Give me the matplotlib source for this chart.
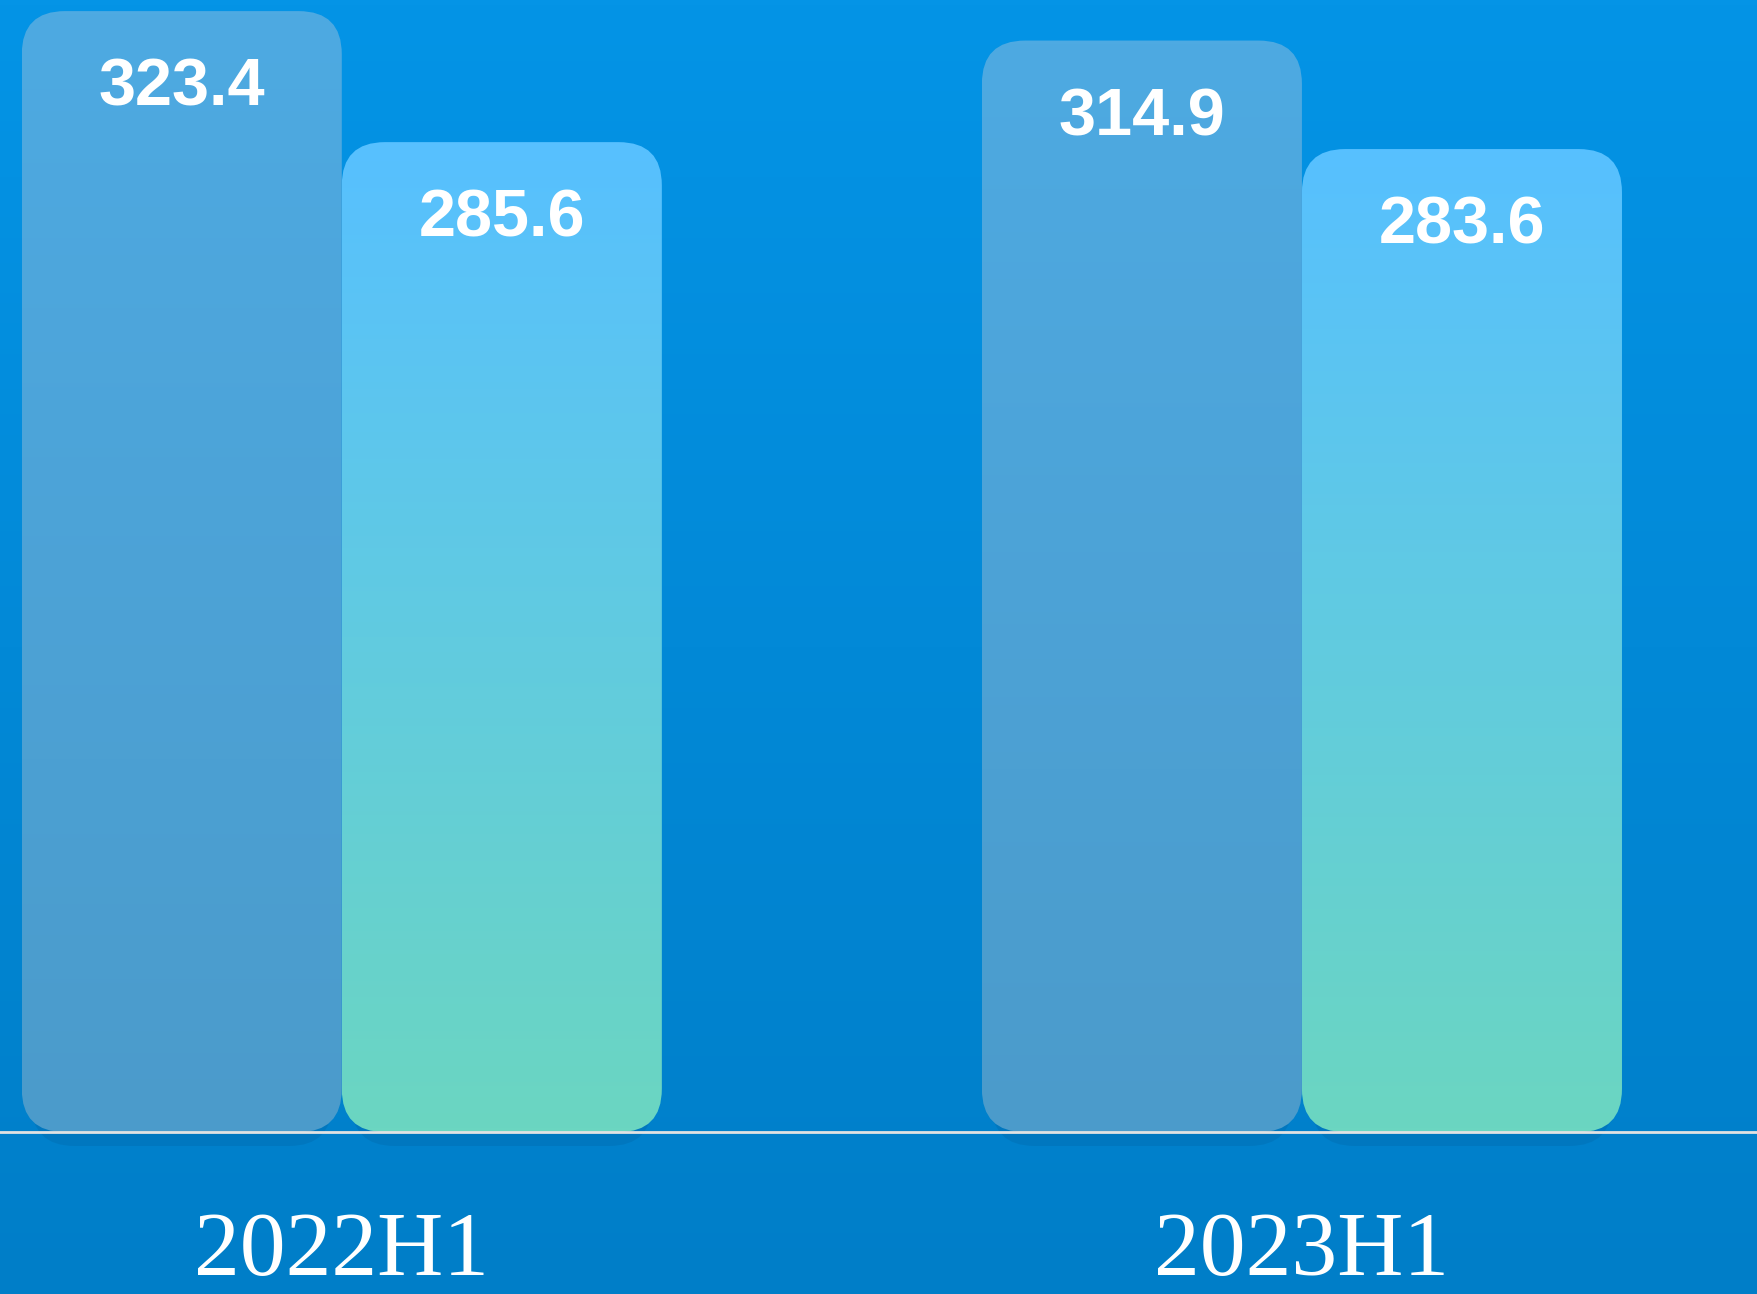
import numpy as np
import matplotlib.pyplot as plt
from matplotlib.patches import FancyBboxPatch
from matplotlib.colors import LinearSegmentedColormap

# data
categories = ["2022H1", "2023H1"]
series_a = [323.4, 314.9]
series_b = [285.6, 283.6]

colors_a = ["#4eaae2", "#4b9bcb"]
colors_b = ["#57c0ff", "#6bd6c1"]

bar_w = 1 / 3
x_lim = (-0.356, 1.475)
y_lim = (-46.7, 326.6)

fig = plt.figure(figsize=(17.58, 12.94), dpi=100)
ax = fig.add_axes([0, 0, 1, 1])

# background gradient
grad = np.linspace(0, 1, 256).reshape(-1, 1)
bg_cmap = LinearSegmentedColormap.from_list("bg", ["#0494e6", "#007ec8"])
ax.imshow(grad, cmap=bg_cmap, extent=[*x_lim, *y_lim], aspect="auto",
          origin="upper", zorder=0)

# rounding: x units, stretched in y by the aspect
r_x = 0.045
aspect = 277


def rounded_bar(xc, height, grad_colors):
    left = xc - bar_w / 2
    # soft shadow under the bar
    shadow = FancyBboxPatch((left + 0.01, -4), bar_w - 0.02, height,
                            boxstyle=f"round,pad=0,rounding_size={r_x}",
                            mutation_aspect=aspect, facecolor="#005f9c",
                            edgecolor="none", alpha=0.25, zorder=2)
    ax.add_patch(shadow)
    patch = FancyBboxPatch((left, 0), bar_w, height,
                           boxstyle=f"round,pad=0,rounding_size={r_x}",
                           mutation_aspect=aspect, facecolor="none",
                           edgecolor="none", zorder=3)
    ax.add_patch(patch)
    cmap = LinearSegmentedColormap.from_list("bar", grad_colors)
    im = ax.imshow(grad, cmap=cmap, extent=[left, left + bar_w, 0, height],
                   aspect="auto", origin="upper", zorder=3)
    im.set_clip_path(patch)


x = np.arange(len(categories))
for i, cat in enumerate(categories):
    xa = x[i] - bar_w / 2
    xb = x[i] + bar_w / 2
    rounded_bar(xa, series_a[i], colors_a)
    rounded_bar(xb, series_b[i], colors_b)

    for xc, v in [(xa, series_a[i]), (xb, series_b[i])]:
        ax.text(xc, v - 22.4, f"{v:.1f}", ha="center", va="center",
                fontsize=48, fontweight="bold", color="white",
                family="Liberation Sans", zorder=5)

    ax.text(x[i], -41.2, cat, ha="center", va="baseline", fontsize=66,
            color="white", family="Liberation Serif", zorder=5)

ax.axhline(0, color="#e2e2e2", lw=2, zorder=4)

ax.set_xlim(*x_lim)
ax.set_ylim(*y_lim)
ax.axis("off")

fig.savefig("out.png", dpi=100)
